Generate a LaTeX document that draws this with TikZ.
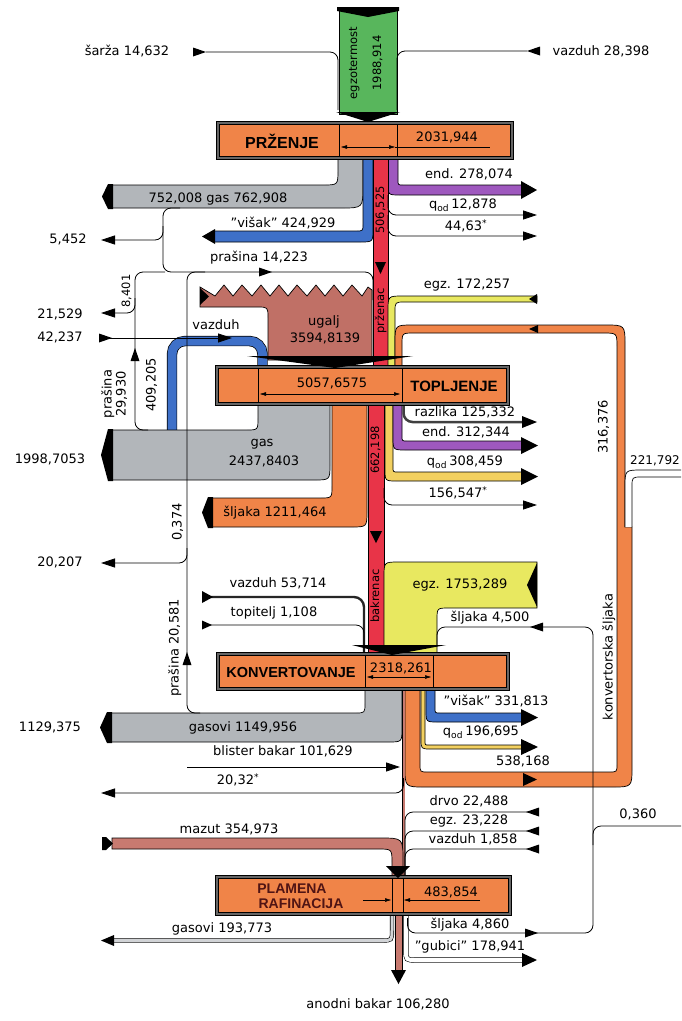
\documentclass[tikz,border=0pt]{standalone}
\usepackage{fontspec}
\setmainfont{DejaVu Sans}
\newfontfamily\titlefont{Liberation Sans}
\usetikzlibrary{arrows.meta}
\definecolor{cOr}{RGB}{240,132,72}
\definecolor{cGr}{RGB}{178,182,186}
\definecolor{cGn}{RGB}{88,182,92}
\definecolor{cRd}{RGB}{232,52,72}
\definecolor{cBl}{RGB}{62,112,200}
\definecolor{cPu}{RGB}{158,88,190}
\definecolor{cYe}{RGB}{232,232,96}
\definecolor{cQo}{RGB}{242,208,96}
\definecolor{cBr}{RGB}{192,112,102}
\definecolor{cMz}{RGB}{200,122,112}
\definecolor{cTx}{RGB}{80,20,20}
\begin{document}
\begin{tikzpicture}[x=1pt,y=-1pt,
  ln/.style={draw=black, line width=0.8pt, rounded corners=8pt},
  arr/.style={-{Triangle[length=14pt,width=9pt]}},
  bnd/.style={draw=black, line width=0.7pt},
  lbl/.style={font=\fontsize{13}{15}\selectfont, inner sep=0pt, text height=9.5pt, text depth=2.5pt},
  vlbl/.style={font=\fontsize{11.5}{13}\selectfont, inner sep=0pt, rotate=90, text height=8.5pt, text depth=2.5pt},
  vlblb/.style={font=\fontsize{13}{15}\selectfont, inner sep=0pt, rotate=90, text height=9.5pt, text depth=2.5pt},
  procbox/.style={fill=cOr, draw=black, line width=0.6pt, double=black!60, double distance=2.2pt},
  ttl/.style={font=\titlefont\bfseries\fontsize{15}{17}\selectfont, inner sep=0pt},
  dim/.style={line width=0.5pt},
  pics/trR/.style={code={\fill (0,0) -- (-13,-4.5) -- (-13,4.5) -- cycle;}},
  pics/trL/.style={code={\fill (0,0) -- (13,-4.5) -- (13,4.5) -- cycle;}},
  pics/trU/.style={code={\fill (0,0) -- (-4.5,13) -- (4.5,13) -- cycle;}}
]
\useasboundingbox (0,0) rectangle (681,1021);
\fill[white] (0,0) rectangle (681,1021);
\clip (0,0) rectangle (681,1021);

% ---------- bands ----------
\filldraw[bnd, fill=cGn] (339,10) rectangle (397,114);
\filldraw[bnd, fill=cGr] (338,150) -- (338,170) .. controls (338,185) .. (323,185) -- (112,185) -- (112,208) -- (341,208) .. controls (363,208) .. (363,186) -- (363,150) -- cycle;
\filldraw[bnd, fill=cBl] (363,150) -- (363,224) .. controls (363,231) .. (356,231) -- (214,231) -- (214,242) -- (360,242) .. controls (373,242) .. (373,229) -- (373,150) -- cycle;
\filldraw[bnd, fill=cPu] (398,150) -- (398,180) .. controls (398,185) .. (403,185) -- (523,185) -- (523,195) -- (400,195) .. controls (388,195) .. (388,183) -- (388,150) -- cycle;
\filldraw[bnd, fill=cRd] (373,150) rectangle (388,372);
\filldraw[bnd, fill=cBr] (200,287) -- (215,296) -- (224,285) -- (233,296) -- (242,285) -- (252,296) -- (261,285) -- (270,296) -- (279,285) -- (288,296) -- (297,285) -- (307,296) -- (316,285) -- (325,296) -- (334,285) -- (343,296) -- (352,285) -- (362,296) -- (368,287) -- (372,290) -- (372,360) -- (268,360) -- (268,318) .. controls (268,307) .. (257,307) -- (200,307) -- cycle;
\filldraw[bnd, fill=cYe] (388,372) -- (388,311) .. controls (388,296) .. (403,296) -- (537,296) -- (537,302) -- (405,302) .. controls (395,302) .. (395,312) -- (395,372) -- cycle;
\filldraw[bnd, fill=cOr] (395,372) -- (395,343) .. controls (395,325) .. (413,325) -- (605,325) .. controls (625,325) .. (625,345) -- (625,527) -- (632,527) -- (632,767) .. controls (632,787) .. (612,787) -- (425,787) .. controls (405,787) .. (405,767) -- (405,684) -- (420,684) -- (420,764) .. controls (420,772) .. (428,772) -- (609,772) .. controls (617,772) .. (617,764) -- (617,347) .. controls (617,333) .. (603,333) -- (414,333) .. controls (402,333) .. (402,345) -- (402,372) -- cycle;
\filldraw[bnd, fill=white] (625,527) -- (625,487) .. controls (625,470) .. (642,470) -- (690,470) -- (690,477) -- (642,477) .. controls (632,477) .. (632,487) -- (632,527);
\draw[line width=0.7pt, double=cBl, double distance=9pt, rounded corners=13pt] (262.5,372) -- (262.5,341) -- (172,341) -- (172,436);
\filldraw[bnd, fill=cGr] (258,398) -- (258,418) .. controls (258,430) .. (246,430) -- (112,430) -- (112,480) -- (314,480) .. controls (330,480) .. (330,464) -- (330,398) -- cycle;
\filldraw[bnd, fill=cOr] (332,398) -- (332,486) .. controls (332,498) .. (320,498) -- (212,498) -- (212,527) -- (351,527) .. controls (367,527) .. (367,511) -- (367,398) -- cycle;
\filldraw[bnd, fill=cRd] (368,398) rectangle (384,660);
\filldraw[bnd, fill=cQo] (393,398) -- (393,467) .. controls (393,472) .. (398,472) -- (523,472) -- (523,481) -- (397,481) .. controls (385,481) .. (385,469) -- (385,398) -- cycle;
\filldraw[bnd, fill=cPu] (402,398) -- (402,436) .. controls (402,441) .. (407,441) -- (523,441) -- (523,450) -- (406,450) .. controls (393,450) .. (393,437) -- (393,398) -- cycle;
\draw[line width=2.5pt, black!75, rounded corners=9pt] (403.5,398) -- (403.5,422) -- (524,422);
\filldraw[bnd, fill=cYe] (384,660) -- (384,577) .. controls (384,562) .. (399,562) -- (537,562) -- (537,608) -- (449,608) .. controls (437,608) .. (437,620) -- (437,660) -- cycle;
\filldraw[bnd, fill=cGr] (365,684) -- (365,703) .. controls (365,713) .. (355,713) -- (111,713) -- (111,742) -- (388,742) .. controls (402,742) .. (402,728) -- (402,684) -- cycle;
\filldraw[bnd, fill=cBl] (435,684) -- (435,708) .. controls (435,713) .. (440,713) -- (523,713) -- (523,722) -- (438,722) .. controls (426,722) .. (426,710) -- (426,684) -- cycle;
\filldraw[bnd, fill=cQo] (425,684) -- (425,741) .. controls (425,745) .. (429,745) -- (523,745) -- (523,749) -- (431,749) .. controls (421,749) .. (421,739) -- (421,684) -- cycle;
\draw[line width=0.6pt, double=cMz, double distance=2pt] (403.5,684) -- (403.5,880);
\filldraw[bnd, fill=cMz] (112,838) -- (380,838) .. controls (403,838) .. (403,861) -- (403,880) -- (392,880) -- (392,863) .. controls (392,849) .. (378,849) -- (112,849) -- cycle;
\draw[line width=0.6pt, double=cGr!60, double distance=3pt] (392,910) -- (392,930) .. controls (392,940.5) .. (382,940.5) -- (112,940.5);
\draw[line width=0.6pt, double=white, double distance=4pt] (406,910) -- (406,950) .. controls (406,960) .. (416,960) -- (523,960);
\filldraw[bnd, fill=cMz] (395,910) rectangle (402,972);

% ---------- thin connectors ----------
\draw[ln] (206,52) -- (338,52) -- (338,110);
\draw[ln] (527,51) -- (397,51) -- (397,110);
\draw[ln, arr] (388,195) -- (388,215) -- (537,215);
\draw[ln, arr] (388,215) -- (388,236) -- (537,236);
\draw[ln] (180,208) -- (163,208) -- (163,272) -- (373,272) -- (373,300);
\draw[ln, arr] (163,226) -- (163,240) -- (101,240);
\draw[ln] (148,430) -- (135,430) -- (135,272) -- (165,272);
\draw[ln, arr] (135,298) -- (135,313) -- (101,313);
\draw[ln] (205,272) -- (187,272) -- (187,713) -- (200,713);
\draw[ln, arr] (187,548) -- (187,563) -- (101,563);
\draw[ln, arr] (100,338) -- (232,338);
\draw[ln, arr] (384,488) -- (384,505) -- (537,505);
\draw[line width=2.4pt, black!85, rounded corners=10pt] (203,597) -- (364,597) -- (364,660);
\draw[ln] (203,625) -- (364,625) -- (364,660);
\draw[ln] (407.5,918) -- (407.5,933) -- (593,933) -- (593,627) -- (437,627) -- (437,645);
\draw[ln] (593,845) -- (593,826) -- (690,826);
\draw[ln] (537,812) -- (405,812) -- (405,880);
\draw[ln] (537,831) -- (405,831) -- (405,880);
\draw[ln] (537,849) -- (405,849) -- (405,880);
\draw[ln, arr] (187,767) -- (400,767);
\draw[ln, arr] (403.5,778) -- (403.5,793) -- (101,793);

\pic at (206,52) {trR};
\pic at (527,51) {trL};
\pic at (112,338) {trR};
\pic at (272,272) {trR};
\pic at (135,348) {trU};
\pic at (187,652) {trU};
\pic at (538,933) {trR};
\pic at (530,627) {trL};
\pic at (526,812) {trL};
\pic at (526,831) {trL};
\pic at (526,849) {trL};

% ---------- boxes ----------
\filldraw[procbox] (218,123) rectangle (512,158);
\filldraw[procbox] (217,367) rectangle (508,404);
\filldraw[procbox] (218,654) rectangle (508,689);
\filldraw[procbox] (217,877) rectangle (510,914);
\draw[dim] (339,125) -- (339,156) (397,125) -- (397,156);
\draw[dim] (258,369) -- (258,402) (402,369) -- (402,402);
\draw[dim] (365,656) -- (365,687) (433,656) -- (433,687);
\draw[dim] (392,879) -- (392,912) (403,879) -- (403,912);
\draw[dim, {Triangle[length=6pt,width=3.5pt]}-{Triangle[length=6pt,width=3.5pt]}] (341,147) -- (395,147);
\draw[dim] (395,147) -- (490,147);
\draw[dim, {Triangle[length=6pt,width=3.5pt]}-{Triangle[length=6pt,width=3.5pt]}] (260,394) -- (400,394);
\draw[dim, {Triangle[length=6pt,width=3.5pt]}-{Triangle[length=6pt,width=3.5pt]}] (367,677) -- (431,677);
\draw[dim, -{Triangle[length=6pt,width=3.5pt]}] (363,900) -- (391,900);
\draw[dim, -{Triangle[length=6pt,width=3.5pt]}] (480,900) -- (404,900);

% ---------- black tips ----------
\fill (337,7) -- (399,7) -- (399,11) -- (368,17) -- (337,11) -- cycle;
\fill (336,112) -- (400,112) -- (368,122) -- cycle;
\fill (375,262) -- (386,262) -- (380.5,274) -- cycle;
\fill (370,531) -- (382,531) -- (376,543) -- cycle;
\fill (200,288) -- (209,296.5) -- (200,305) -- cycle;
\fill (247,356) -- (413,356) -- (335,368) -- cycle;
\fill (352,645) -- (446,645) -- (392,655) -- cycle;
\fill (113,184) -- (113,209) -- (108,209) -- (102,196.5) -- (108,184) -- cycle;
\fill (113,429) -- (113,481) -- (108,481) -- (101,455) -- (108,429) -- cycle;
\fill (112,712) -- (112,743) -- (107,743) -- (100,727.5) -- (107,712) -- cycle;
\fill (213,497) -- (213,528) -- (208,528) -- (202,512.5) -- (208,497) -- cycle;
\fill (215,229) -- (215,244) -- (202,236.5) -- cycle;
\fill (102,837) -- (106,837) -- (113,843.5) -- (106,850) -- (102,850) -- cycle;
\fill (114,935) -- (114,946) -- (101,940.5) -- cycle;
\fill (522,953) -- (537,960) -- (522,967) -- cycle;
\fill (521,181) -- (537,190) -- (521,199) -- cycle;
\fill (521,437) -- (538,445.5) -- (521,454) -- cycle;
\fill (521,468) -- (538,476.5) -- (521,485) -- cycle;
\fill (521,739) -- (538,747) -- (521,755) -- cycle;
\fill (521,709) -- (538,717.5) -- (521,726) -- cycle;
\fill (522,416) -- (537,422) -- (522,428) -- cycle;
\fill (538,325) -- (529,329) -- (538,333) -- cycle;
\fill (523,773) -- (537,779.5) -- (523,786) -- cycle;
\fill (537,294) -- (529,299) -- (537,304) -- cycle;
\fill (537,563) -- (527,585) -- (537,607) -- cycle;
\fill (391,970) -- (406,970) -- (398.5,984) -- cycle;
\fill (386,866) -- (410,866) -- (398,878) -- cycle;
\fill (202,591) -- (213,597) -- (202,603) -- cycle;
\fill (202,620.5) -- (212,625) -- (202,629.5) -- cycle;

% ---------- texts ----------
\node[ttl, font=\titlefont\bfseries\fontsize{16}{18}\selectfont] (tPr) at (282,141) {PRŽENJE};
\node[ttl] (tTo) at (454,386) {TOPLJENJE};
\node[ttl, font=\titlefont\bfseries\fontsize{14.5}{17}\selectfont] (tKo) at (291,672) {KONVERTOVANJE};
\node[ttl, text=cTx, font=\titlefont\bfseries\fontsize{14}{16}\selectfont, anchor=base] (tPl1) at (292,893) {PLAMENA};
\node[ttl, text=cTx, font=\titlefont\bfseries\fontsize{14}{16}\selectfont, anchor=base] (tPl2) at (301,908) {RAFINACIJA};

\node[lbl] (l01) at (127,52) {šarža 14,632};
\node[lbl] (l02) at (601,52) {vazduh 28,398};
\node[vlbl] (l03) at (354,63) {egzotermost};
\node[vlbl] (l04) at (378,63) {1988,914};
\node[lbl] (l05) at (447,138) {2031,944};
\node[lbl] (l06) at (218,199) {752,008 gas 762,908};
\node[lbl] (l07) at (283,224) {"višak" 424,929};
\node[lbl] (l08) at (469,175) {end. 278,074};
\node[lbl] (l09) at (463,205) {q\textsubscript{od}\,12,878};
\node[lbl] (l10) at (466,227) {44,63\textsuperscript{*}};
\node[lbl] (l11) at (68,240) {5,452};
\node[lbl] (l12) at (259,258) {prašina 14,223};
\node[vlbl] (l13) at (127,291) {8,401};
\node[lbl] (l14) at (60,315) {21,529};
\node[lbl] (l15) at (60,338) {42,237};
\node[lbl] (l16) at (216,326) {vazduh};
\node[lbl] (l17) at (324,322) {ugalj};
\node[lbl] (l18) at (325,339) {3594,8139};
\node[vlblb] (l19) at (108,394) {prašina};
\node[vlblb] (l20) at (122,394) {29,930};
\node[vlblb] (l21) at (152,385) {409,205};
\node[vlbl] (l22) at (381,210) {506,525};
\node[vlbl] (l23) at (381,311) {prženac};
\node[lbl] (l24) at (467,285) {egz. 172,257};
\node[lbl] (l25) at (332,384) {5057,6575};
\node[lbl] (l26) at (465,413) {razlika 125,332};
\node[lbl] (l27) at (466,433) {end. 312,344};
\node[lbl] (l28) at (465,462) {q\textsubscript{od}\,308,459};
\node[lbl] (l29) at (458,494) {156,547\textsuperscript{*}};
\node[vlblb] (l30) at (604,427) {316,376};
\node[lbl] (l31) at (50,460) {1998,7053};
\node[lbl] (l32) at (262,443) {gas};
\node[lbl] (l33) at (264,462) {2437,8403};
\node[vlbl] (l34) at (376,450) {662,198};
\node[vlbl] (l35) at (376,596) {bakrenac};
\node[lbl] (l36) at (275,513) {šljaka 1211,464};
\node[vlblb] (l37) at (178,522) {0,374};
\node[lbl] (l38) at (60,563) {20,207};
\node[lbl] (l39) at (278,584) {vazduh 53,714};
\node[lbl] (l40) at (274,613) {topitelj 1,108};
\node[lbl] (l41) at (460,585) {egz. 1753,289};
\node[lbl] (l42) at (490,618) {šljaka 4,500};
\node[vlblb] (l43) at (175,648) {prašina 20,581};
\node[lbl] (l44) at (401,669) {2318,261};
\node[lbl] (l45) at (496,702) {"višak" 331,813};
\node[lbl] (l46) at (50,728) {1129,375};
\node[lbl] (l47) at (243,728) {gasovi 1149,956};
\node[lbl] (l48) at (481,732) {q\textsubscript{od}\,196,695};
\node[lbl] (l49) at (283,752) {blister bakar 101,629};
\node[lbl] (l50) at (523,762) {538,168};
\node[vlblb] (l51) at (609,657) {konvertorska šljaka};
\node[lbl, anchor=east, font=\fontsize{12}{14}\selectfont] (l52) at (680,461) {221,792};
\node[lbl] (l53) at (238,781) {20,32\textsuperscript{*}};
\node[lbl] (l54) at (469,802) {drvo 22,488};
\node[lbl] (l55) at (469,821) {egz. 23,228};
\node[lbl] (l56) at (473,840) {vazduh 1,858};
\node[lbl] (l57) at (638,815) {0,360};
\node[lbl] (l58) at (229,830) {mazut 354,973};
\node[lbl] (l59) at (451,893) {483,854};
\node[lbl] (l60) at (470,925) {šljaka 4,860};
\node[lbl] (l61) at (222,929) {gasovi 193,773};
\node[lbl] (l62) at (470,947) {"gubici" 178,941};
\node[lbl] (l63) at (378,1005) {anodni bakar 106,280};
\end{tikzpicture}
\end{document}
